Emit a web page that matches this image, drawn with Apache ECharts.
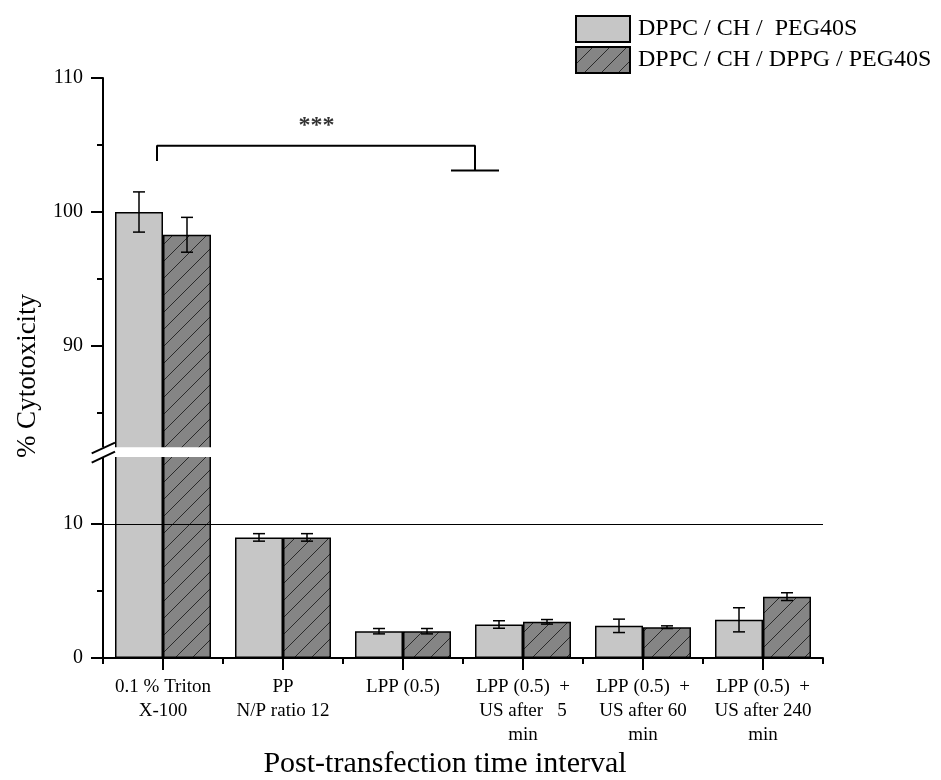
<!DOCTYPE html>
<html>
<head>
<meta charset="utf-8">
<script src="https://cdn.jsdelivr.net/npm/echarts@6/dist/echarts.min.js"></script>
<style>
  html, body { margin: 0; padding: 0; background: #fff; }
  #chart { width: 941px; height: 780px; }
</style>
</head>
<body>
<div id="chart"></div>
<script>
// ---- data ----
const categories = [
  '0.1 % Triton\nX-100',
  'PP\nN/P ratio 12',
  'LPP (0.5)',
  'LPP (0.5)  +\nUS after   5\nmin',
  'LPP (0.5)  +\nUS after 60\nmin',
  'LPP (0.5)  +\nUS after 240\nmin'
];
const seriesNames = ['DPPC / CH /  PEG40S', 'DPPC / CH / DPPG / PEG40S'];
const lightMean = [100, 9.0, 2.0, 2.5, 2.4, 2.85];
const lightErr  = [1.5, 0.28, 0.2, 0.28, 0.5, 0.9];
const darkMean  = [98.3, 9.0, 2.0, 2.7, 2.3, 4.58];
const darkErr   = [1.3, 0.28, 0.2, 0.17, 0.1, 0.29];
const upperMajorTicks = [90, 100, 110];
const upperMinorTicks = [85, 95, 105];
const lowerMajorTicks = [0, 10];
const lowerMinorTicks = [5];
const referenceLevel = 10;
// significance bracket: [category position, % value]
const bracketPath = [[-0.05, 103.8], [-0.05, 104.95], [2.6, 104.95], [2.6, 103.1]];
const bracketFoot = [[2.4, 103.1], [2.8, 103.1]];
const starPos = [1.28, 106.4];
const starText = '***';
const yTitle = '% Cytotoxicity';
const xTitle = 'Post-transfection time interval';

// ---- layout: broken value axis made of two stacked grids ----
const FONT = 'Liberation Serif';
const PX_PER_UNIT = 13.4;
const PLOT_LEFT = 103, PLOT_WIDTH = 720;
const UPPER_TOP = 78, UPPER_MIN = 82, UPPER_MAX = 110;
const LOWER_BOTTOM = 658, LOWER_MIN = 0, LOWER_MAX = 15.2;
const upperHeight = (UPPER_MAX - UPPER_MIN) * PX_PER_UNIT;
const lowerHeight = (LOWER_MAX - LOWER_MIN) * PX_PER_UNIT;
const lowerTop = LOWER_BOTTOM - lowerHeight;

function makeHatch() {
  const s = 17;
  const c = document.createElement('canvas');
  c.width = s; c.height = s;
  const g = c.getContext('2d');
  g.fillStyle = '#858585';
  g.fillRect(0, 0, s, s);
  g.strokeStyle = '#2a2a2a';
  g.lineWidth = 1;
  g.beginPath();
  g.moveTo(0, s); g.lineTo(s, 0);
  g.moveTo(-2, 2); g.lineTo(2, -2);
  g.moveTo(s - 2, s + 2); g.lineTo(s + 2, s - 2);
  g.stroke();
  return c;
}

const lightStyle = { color: '#c6c6c6', borderColor: '#000', borderWidth: 1.5 };
const darkStyle = { color: { image: makeHatch(), repeat: 'repeat' }, borderColor: '#000', borderWidth: 1.5 };
const axisLineStyle = { color: '#000', width: 2 };

function errData(means, errs, side, keep) {
  return means.map((m, i) => [i, m, errs[i], side]).filter(d => keep(d[1]));
}
const inUpper = v => v > UPPER_MIN;
const inLower = v => v <= LOWER_MAX;

function renderErr(params, api) {
  const i = api.value(0), m = api.value(1), e = api.value(2), side = api.value(3);
  const band = api.size([1, 0])[0];
  const x = api.coord([i, m])[0] + side * band * 0.2;
  const yTop = api.coord([i, m + e])[1];
  const yBot = api.coord([i, m - e])[1];
  const cap = 6;
  const st = { stroke: '#000', lineWidth: 1.5 };
  return {
    type: 'group',
    children: [
      { type: 'line', shape: { x1: x, y1: yTop, x2: x, y2: yBot }, style: st },
      { type: 'line', shape: { x1: x - cap, y1: yTop, x2: x + cap, y2: yTop }, style: st },
      { type: 'line', shape: { x1: x - cap, y1: yBot, x2: x + cap, y2: yBot }, style: st }
    ]
  };
}

function yAxisPair(grid, min, max, major, minor) {
  return [
    {
      type: 'value', gridIndex: grid, min: min, max: max, position: 'left',
      axisLine: { show: true, onZero: false, lineStyle: axisLineStyle },
      splitLine: { show: false },
      axisTick: { show: true, length: 12, customValues: major, lineStyle: axisLineStyle },
      axisLabel: { show: true, customValues: major, color: '#000', fontFamily: FONT, fontSize: 20, margin: 20 }
    },
    {
      type: 'value', gridIndex: grid, min: min, max: max, position: 'left',
      axisLine: { show: false, onZero: false },
      splitLine: { show: false },
      axisTick: { show: true, length: 6, customValues: minor, lineStyle: axisLineStyle },
      axisLabel: { show: false }
    }
  ];
}

const chart = echarts.init(document.getElementById('chart'), null, { renderer: 'canvas' });

chart.setOption({
  animation: false,
  backgroundColor: '#fff',
  textStyle: { fontFamily: FONT },
  legend: {
    orient: 'vertical', left: 570, top: 10,
    itemWidth: 54, itemHeight: 26, itemGap: 3,
    icon: 'rect',
    data: seriesNames,
    textStyle: { color: '#000', fontFamily: FONT, fontSize: 24, lineHeight: 26, padding: [0, 0, 0, 3] }
  },
  grid: [
    { left: PLOT_LEFT, width: PLOT_WIDTH, top: UPPER_TOP, height: upperHeight },
    { left: PLOT_LEFT, width: PLOT_WIDTH, top: lowerTop, height: lowerHeight }
  ],
  xAxis: [
    { type: 'category', gridIndex: 0, data: categories, show: false },
    { type: 'value', gridIndex: 0, min: -0.5, max: 5.5, show: false },
    {
      type: 'category', gridIndex: 1, data: categories, position: 'bottom',
      axisLine: { show: true, onZero: false, lineStyle: axisLineStyle },
      axisTick: { show: true, alignWithLabel: true, length: 12, lineStyle: axisLineStyle },
      axisLabel: { interval: 0, color: '#000', fontFamily: FONT, fontSize: 19, lineHeight: 24, margin: 17 }
    },
    {
      type: 'category', gridIndex: 1, data: categories, position: 'bottom',
      axisLine: { show: false, onZero: false },
      axisTick: { show: true, length: 6, lineStyle: axisLineStyle },
      axisLabel: { show: false }
    }
  ],
  yAxis: [
    ...yAxisPair(0, UPPER_MIN, UPPER_MAX, upperMajorTicks, upperMinorTicks),
    ...yAxisPair(1, LOWER_MIN, LOWER_MAX, lowerMajorTicks, lowerMinorTicks)
  ],
  series: [
    {
      name: seriesNames[0], type: 'bar', xAxisIndex: 0, yAxisIndex: 0,
      data: lightMean.map(v => inUpper(v) ? v : '-'),
      barGap: '0%', barCategoryGap: '20%', itemStyle: lightStyle
    },
    {
      name: seriesNames[1], type: 'bar', xAxisIndex: 0, yAxisIndex: 0,
      data: darkMean.map(v => inUpper(v) ? v : '-'),
      barGap: '0%', barCategoryGap: '20%', itemStyle: darkStyle
    },
    {
      name: seriesNames[0], type: 'bar', xAxisIndex: 2, yAxisIndex: 2,
      data: lightMean, barGap: '0%', barCategoryGap: '20%', itemStyle: lightStyle
    },
    {
      name: seriesNames[1], type: 'bar', xAxisIndex: 2, yAxisIndex: 2,
      data: darkMean, barGap: '0%', barCategoryGap: '20%', itemStyle: darkStyle
    },
    {
      type: 'line', xAxisIndex: 2, yAxisIndex: 2, z: 1, data: [], silent: true,
      markLine: {
        silent: true, symbol: 'none', label: { show: false },
        lineStyle: { color: '#000', width: 1, type: 'solid' },
        data: [{ yAxis: referenceLevel }]
      }
    },
    {
      type: 'custom', xAxisIndex: 0, yAxisIndex: 0, z: 3, renderItem: renderErr,
      data: errData(lightMean, lightErr, -1, inUpper).concat(errData(darkMean, darkErr, 1, inUpper))
    },
    {
      type: 'custom', xAxisIndex: 2, yAxisIndex: 2, z: 3, renderItem: renderErr,
      data: errData(lightMean, lightErr, -1, inLower).concat(errData(darkMean, darkErr, 1, inLower))
    },
    {
      type: 'line', xAxisIndex: 1, yAxisIndex: 0, data: bracketPath, symbol: 'none',
      lineStyle: { color: '#000', width: 2 }, silent: true
    },
    {
      type: 'line', xAxisIndex: 1, yAxisIndex: 0, data: bracketFoot, symbol: 'none',
      lineStyle: { color: '#000', width: 2 }, silent: true
    },
    {
      type: 'scatter', xAxisIndex: 1, yAxisIndex: 0, data: [starPos], symbolSize: 1,
      itemStyle: { color: 'transparent' }, silent: true,
      label: { show: true, position: 'inside', formatter: starText, color: '#000', fontFamily: FONT, fontSize: 24, fontWeight: 'bold' }
    }
  ],
  graphic: [
    // gap of the broken axis
    { type: 'rect', z: 100, shape: { x: 100, y: 447.3, width: 116, height: 9.6 }, style: { fill: '#fff' } },
    { type: 'line', z: 101, shape: { x1: 91.7, y1: 453.3, x2: 115, y2: 442.7 }, style: { stroke: '#000', lineWidth: 2 } },
    { type: 'line', z: 101, shape: { x1: 91.7, y1: 462.7, x2: 115, y2: 451.7 }, style: { stroke: '#000', lineWidth: 2 } },
    {
      type: 'text', z: 101, x: 28, y: 376, rotation: Math.PI / 2,
      style: { text: yTitle, fill: '#000', font: '27px "Liberation Serif"', textAlign: 'center', textVerticalAlign: 'middle' }
    },
    {
      type: 'text', z: 101, x: 445, y: 764,
      style: { text: xTitle, fill: '#000', font: '30px "Liberation Serif"', textAlign: 'center', textVerticalAlign: 'middle' }
    }
  ]
});
</script>
</body>
</html>
